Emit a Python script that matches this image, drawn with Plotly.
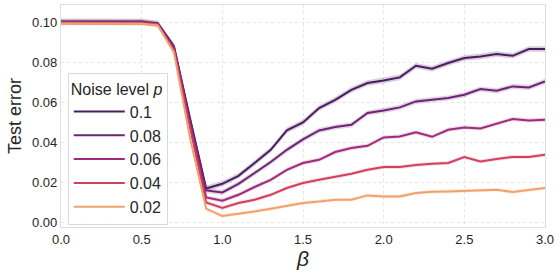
import plotly.graph_objects as go

beta = [0.0, 0.1, 0.2, 0.3, 0.4, 0.5, 0.6, 0.7, 0.8, 0.9, 1.0, 1.1, 1.2, 1.3, 1.4, 1.5,
        1.6, 1.7, 1.8, 1.9, 2.0, 2.1, 2.2, 2.3, 2.4, 2.5, 2.6, 2.7, 2.8, 2.9, 3.0]

err_p010 = [0.1005, 0.1005, 0.1005, 0.1005, 0.1005, 0.1004, 0.0995, 0.0880, 0.0520, 0.0170,
            0.0193, 0.0233, 0.0297, 0.0363, 0.0460, 0.0500, 0.0572, 0.0613, 0.0663, 0.0697,
            0.0710, 0.0725, 0.0783, 0.0768, 0.0797, 0.0822, 0.0830, 0.0842, 0.0833, 0.0867, 0.0867]
err_p008 = [0.1002, 0.1002, 0.1002, 0.1002, 0.1002, 0.1001, 0.0993, 0.0880, 0.0510, 0.0160,
            0.0150, 0.0193, 0.0247, 0.0302, 0.0363, 0.0415, 0.0460, 0.0477, 0.0488, 0.0547,
            0.0560, 0.0575, 0.0605, 0.0613, 0.0622, 0.0638, 0.0667, 0.0658, 0.0680, 0.0675, 0.0705]
err_p006 = [0.0999, 0.0999, 0.0999, 0.0999, 0.0999, 0.0998, 0.0990, 0.0870, 0.0490, 0.0125,
            0.0108, 0.0138, 0.0177, 0.0213, 0.0263, 0.0297, 0.0313, 0.0352, 0.0372, 0.0383,
            0.0425, 0.0430, 0.0450, 0.0428, 0.0463, 0.0475, 0.0470, 0.0492, 0.0517, 0.0510, 0.0513]
err_p004 = [0.0997, 0.0997, 0.0997, 0.0997, 0.0997, 0.0996, 0.0988, 0.0860, 0.0470, 0.0100,
            0.0072, 0.0097, 0.0113, 0.0138, 0.0172, 0.0197, 0.0213, 0.0227, 0.0243, 0.0263,
            0.0277, 0.0277, 0.0287, 0.0293, 0.0297, 0.0327, 0.0305, 0.0317, 0.0327, 0.0327, 0.0338]
err_p002 = [0.0994, 0.0994, 0.0994, 0.0994, 0.0994, 0.0993, 0.0985, 0.0850, 0.0420, 0.0068,
            0.0032, 0.0042, 0.0055, 0.0068, 0.0083, 0.0097, 0.0105, 0.0113, 0.0113, 0.0135,
            0.0130, 0.0130, 0.0147, 0.0153, 0.0155, 0.0158, 0.0163, 0.0163, 0.0152, 0.0163, 0.0172]

noise_labels = ["0.1", "0.08", "0.06", "0.04", "0.02"]
ci_halfwidth = [0.0014, 0.0013, 0.0011, 0.0010, 0.0009]
colors = ["#4b1d5f", "#6d2475", "#9e2b7b", "#d3405f", "#f1a26c"]
band_colors = ["rgba(75,29,95,0.22)", "rgba(109,36,117,0.2)", "rgba(158,43,123,0.18)",
               "rgba(211,64,95,0.18)", "rgba(241,162,108,0.22)"]

series = [err_p010, err_p008, err_p006, err_p004, err_p002]
FONT = "Liberation Sans, Arial, sans-serif"
TXT = "#262626"

fig = go.Figure()
for vals, lab, ci, col, bcol in zip(series, noise_labels, ci_halfwidth, colors, band_colors):
    lower = [v - ci for v in vals]
    upper = [v + ci for v in vals]
    fig.add_trace(go.Scatter(x=beta, y=lower, mode="lines", line=dict(width=0, color=col),
                             showlegend=False, hoverinfo="skip"))
    fig.add_trace(go.Scatter(x=beta, y=upper, mode="lines", line=dict(width=0, color=col),
                             fill="tonexty", fillcolor=bcol, showlegend=False, hoverinfo="skip"))
    fig.add_trace(go.Scatter(x=beta, y=vals, mode="lines", name=lab,
                             line=dict(width=2, color=col)))

fig.update_layout(
    width=560, height=276,
    margin=dict(l=61, r=15, t=5, b=49),
    paper_bgcolor="white", plot_bgcolor="white",
    font=dict(family=FONT, color=TXT, size=13),
    legend=dict(
        title=dict(text="Noise level <i>p</i>", font=dict(size=16, color=TXT)),
        font=dict(size=16, color=TXT),
        traceorder="normal",
        x=0.014, y=0.01, xanchor="left", yanchor="bottom",
        bgcolor="rgba(255,255,255,0.85)", bordercolor="#d9d9d9", borderwidth=1,
        itemwidth=51,
    ),
)
fig.update_xaxes(
    range=[0, 3], tickvals=[0, 0.5, 1.0, 1.5, 2.0, 2.5, 3.0], tickformat=".1f",
    showgrid=True, gridcolor="#e6e6e6", griddash="dot", gridwidth=1,
    showline=True, linecolor="#dedede", linewidth=1.3, mirror=True,
    ticks="", zeroline=False,
    tickfont=dict(size=13, color=TXT),
    title=dict(text="<i>β</i>", font=dict(size=21, color=TXT), standoff=4),
)
fig.update_yaxes(
    range=[-0.0023, 0.1087], tickvals=[0, 0.02, 0.04, 0.06, 0.08, 0.10], tickformat=".2f",
    showgrid=True, gridcolor="#e6e6e6", griddash="dot", gridwidth=1,
    showline=True, linecolor="#dedede", linewidth=1.3, mirror=True,
    ticks="", zeroline=False,
    tickfont=dict(size=13, color=TXT),
    title=dict(text="Test error", font=dict(size=18, color=TXT), standoff=5),
)

fig.write_html("out.html", config={"displayModeBar": False},
               post_script="document.body.style.margin='0';document.body.style.padding='0';")
